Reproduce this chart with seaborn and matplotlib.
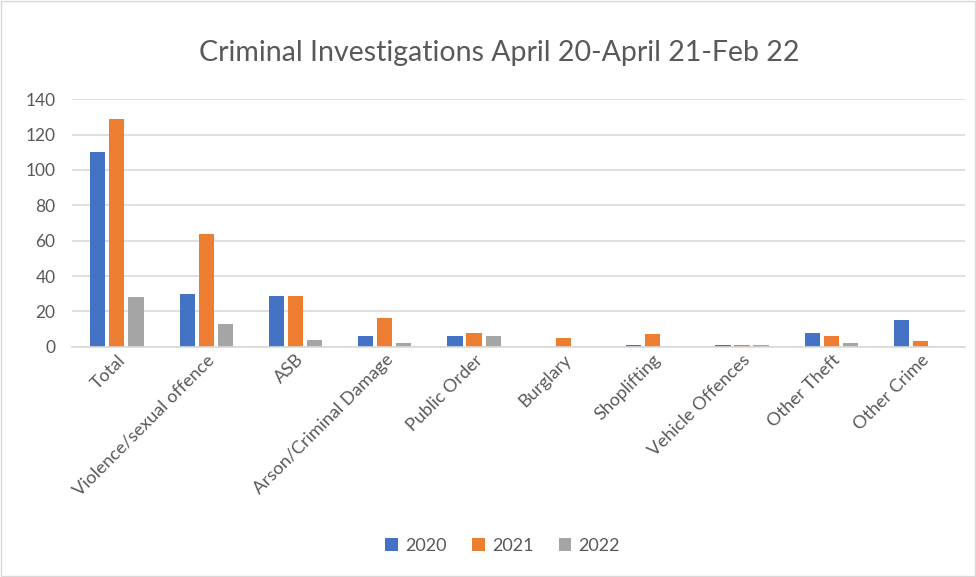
import matplotlib

matplotlib.use("Agg")

import matplotlib.pyplot as plt
import pandas as pd
import seaborn as sns

categorias = ["Total", "Violence/sexual offence", "ASB", "Arson/Criminal Damage",
              "Public Order", "Burglary", "Shoplifting", "Vehicle Offences",
              "Other Theft", "Other Crime"]
anos = ["2020", "2021", "2022"]
valores_2020 = [110, 30, 29, 6, 6, 0, 1, 1, 8, 15]
valores_2021 = [129, 64, 29, 16, 8, 5, 7, 1, 6, 3]
valores_2022 = [28, 13, 4, 2, 6, 0, 0, 1, 2, 0]

cores = ["#4472C4", "#ED7D31", "#A5A5A5"]
TEXTO = "#595959"

df = pd.DataFrame({
    "categoria": categorias * 3,
    "ano": [a for a in anos for _ in categorias],
    "valor": valores_2020 + valores_2021 + valores_2022,
})

sns.set_theme(style="white")
plt.rcParams["font.family"] = ["Lato", "DejaVu Sans"]

fig = plt.figure(figsize=(9.76, 5.77), dpi=100)
ax = fig.add_axes([0.074, 0.399, 0.915, 0.429])

sns.barplot(data=df, x="categoria", y="valor", hue="ano", palette=cores,
            saturation=1, width=0.64, gap=0.2, linewidth=0, ax=ax, legend=True)

ax.set_ylim(0, 140)
ax.set_yticks(range(0, 141, 20))
ax.yaxis.grid(True, color="#D9D9D9", linewidth=1.2)
ax.set_axisbelow(True)
for lado in ["top", "right", "left"]:
    ax.spines[lado].set_visible(False)
ax.spines["bottom"].set_color("#D9D9D9")
ax.spines["bottom"].set_linewidth(1.2)
ax.set_xlabel("")
ax.set_ylabel("")
ax.tick_params(axis="both", length=0, colors=TEXTO, labelsize=13)
ax.tick_params(axis="y", pad=12, labelsize=12.5)
plt.setp(ax.get_xticklabels(), rotation=45, ha="right", rotation_mode="anchor")

fig.suptitle("Criminal Investigations April 20-April 21-Feb 22", x=0.512, y=0.93,
             fontsize=20.5, color=TEXTO)

ax.legend(loc="lower center", bbox_to_anchor=(0.515, 0.012),
          bbox_transform=fig.transFigure, ncol=3, frameon=False, fontsize=13,
          handlelength=0.7, handleheight=0.7, handletextpad=0.4, columnspacing=1.4,
          labelcolor=TEXTO)

fig.patches.append(plt.Rectangle((0.001, 0.001), 0.998, 0.998, transform=fig.transFigure,
                                 fill=False, edgecolor="#D9D9D9", linewidth=1))

fig.savefig("out.png", dpi=100)
